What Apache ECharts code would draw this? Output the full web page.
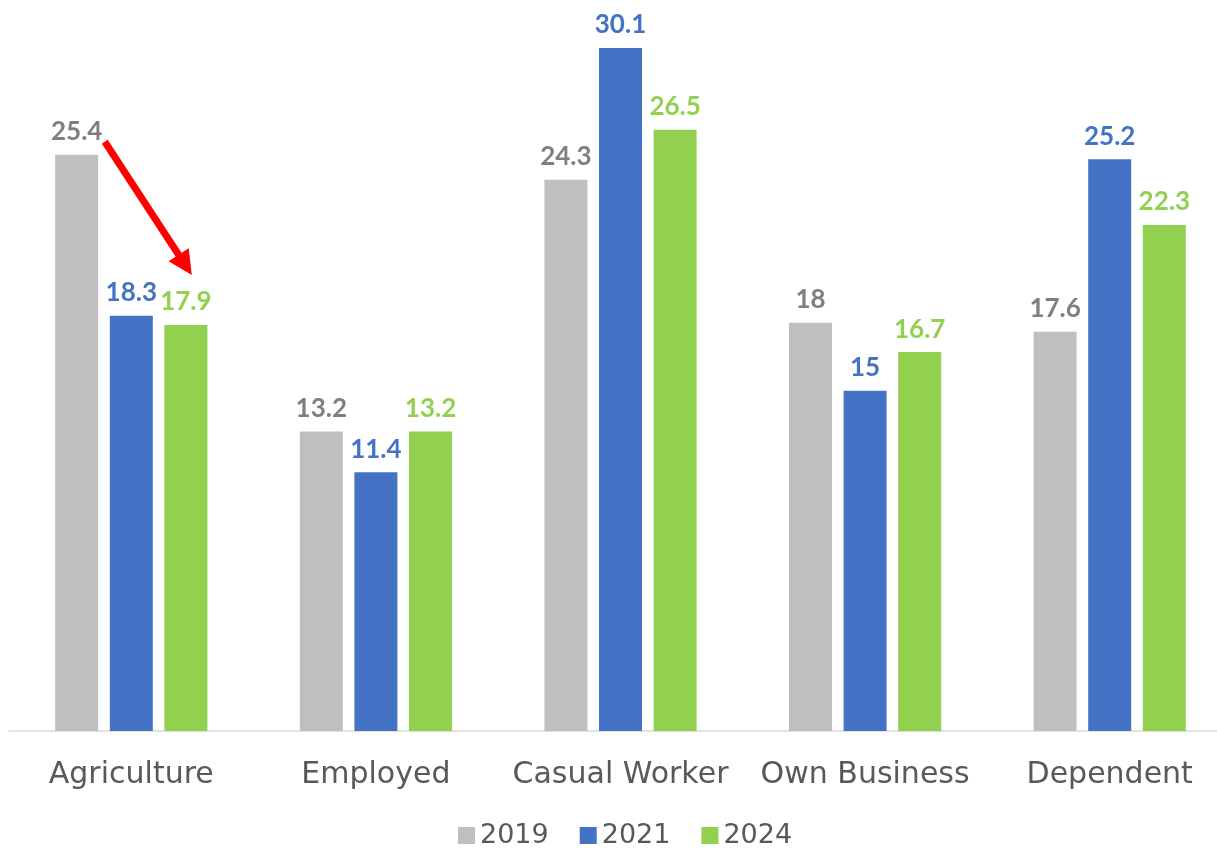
<!DOCTYPE html>
<html>
<head>
<meta charset="utf-8">
<script src="https://cdn.jsdelivr.net/npm/echarts@6/dist/echarts.min.js"></script>
<style>
  html, body { margin: 0; padding: 0; background: #ffffff; }
  #chart { width: 1217px; height: 848px; }
</style>
</head>
<body>
<div id="chart"></div>
<script>
// Share (%) by category, three survey years
const categories = ['Agriculture', 'Employed', 'Casual Worker', 'Own Business', 'Dependent'];
const years = ['2019', '2021', '2024'];
const values2019 = [25.4, 13.2, 24.3, 18, 17.6];
const values2021 = [18.3, 11.4, 30.1, 15, 25.2];
const values2024 = [17.9, 13.2, 26.5, 16.7, 22.3];

const barColors = ['#bfbfbf', '#4472c4', '#92d050'];
const labelColors = ['#7f7f7f', '#4472c4', '#92d050'];
const axisFont = 'DejaVu Sans';

function makeSeries(name, data, i) {
  return {
    name: name,
    type: 'bar',
    data: data,
    barWidth: 43,
    barGap: '27%',
    itemStyle: { color: barColors[i] },
    label: {
      show: true,
      position: 'top',
      distance: 10,
      color: labelColors[i],
      fontFamily: 'Lato',
      fontWeight: 'bold',
      fontSize: 26
    }
  };
}

const chart = echarts.init(document.getElementById('chart'), null, { renderer: 'canvas' });

const option = {
  backgroundColor: '#ffffff',
  animation: false,
  grid: { left: 9, right: -15, top: 5, bottom: 117, outerBoundsMode: 'none', containLabel: false },
  legend: {
    data: years,
    left: 458,
    top: 822,
    padding: 0,
    itemWidth: 17,
    itemHeight: 17,
    itemGap: 31,
    icon: 'rect',
    textStyle: { fontFamily: axisFont, fontSize: 27, color: '#595959' }
  },
  xAxis: {
    type: 'category',
    data: categories,
    axisLine: { show: true, lineStyle: { color: '#d9d9d9', width: 1.5 } },
    axisTick: { show: false },
    axisLabel: {
      margin: 29,
      fontFamily: axisFont,
      fontSize: 30,
      color: '#595959',
      interval: 0,
      hideOverlap: false
    }
  },
  yAxis: {
    type: 'value',
    min: 0,
    max: 32,
    show: false,
    splitLine: { show: false }
  },
  series: [
    makeSeries(years[0], values2019, 0),
    makeSeries(years[1], values2021, 1),
    makeSeries(years[2], values2024, 2)
  ]
};

chart.setOption(option);

// Red arrow pointing from the 2019 Agriculture label down to the 2024 label
const top2019 = chart.convertToPixel({ gridIndex: 0 }, [0, values2019[0]]);
const top2024 = chart.convertToPixel({ gridIndex: 0 }, [0, values2024[0]]);
const barStep = 54.5;
const sx = top2019[0] - barStep + 28, sy = top2019[1] - 13;
const tx = top2024[0] + barStep + 6, ty = top2024[1] - 50;
const dx = tx - sx, dy = ty - sy;
const len = Math.sqrt(dx * dx + dy * dy);
const ux = dx / len, uy = dy / len;
const headLen = 24, headHalf = 12;
const bx = tx - ux * headLen, by = ty - uy * headLen;
const px = -uy, py = ux;

chart.setOption({
  graphic: [
    {
      type: 'line',
      shape: { x1: sx, y1: sy, x2: bx + ux * 2, y2: by + uy * 2 },
      style: { stroke: '#ff0000', lineWidth: 7 }
    },
    {
      type: 'polygon',
      shape: {
        points: [
          [tx, ty],
          [bx + px * headHalf, by + py * headHalf],
          [bx - px * headHalf, by - py * headHalf]
        ]
      },
      style: { fill: '#ff0000' }
    }
  ]
});
</script>
</body>
</html>
